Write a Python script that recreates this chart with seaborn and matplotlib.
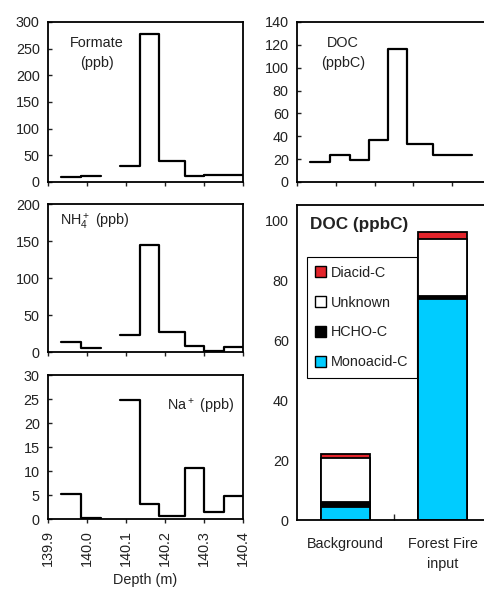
import numpy as np
import pandas as pd
import seaborn as sns
import matplotlib.pyplot as plt
from matplotlib.patches import Patch

# sample depth boundaries (m) and concentrations, NaN = no sample
edges = [139.933, 139.985, 140.036, 140.085, 140.135, 140.184, 140.250, 140.300, 140.350, 140.400]
formate = [9.4, 12.0, np.nan, 30.0, 278.0, 40.0, 10.7, 13.0, 13.0]
nh4 = [14.0, 6.0, np.nan, 22.5, 145.0, 27.0, 8.0, 2.0, 6.5]
na = [5.3, 0.3, np.nan, 24.7, 3.1, 0.6, 10.6, 1.5, 4.7]
doc = [17.6, 23.5, 19.0, 36.5, 116.0, 33.0, 24.0, 24.0, np.nan]

# DOC budget (ppbC)
sources = ['Background', 'Forest Fire\ninput']
monoacid = [4.4, 73.6]
hcho = [1.6, 1.1]
unknown = [14.8, 19.0]
diacid = [1.1, 2.2]

sns.set_style('ticks')
plt.rcParams['font.family'] = ['Liberation Sans', 'DejaVu Sans']
plt.rcParams['mathtext.fontset'] = 'custom'
plt.rcParams['mathtext.rm'] = 'Liberation Sans'
TXT = '#222222'
FS = 10.4


def step_plot(ax, vals):
    # split into runs of measured samples so a missing one leaves a gap
    runs, cur = [], []
    for i, v in enumerate(vals):
        if np.isnan(v):
            if cur:
                runs.append(cur)
            cur = []
        else:
            cur.append(i)
    if cur:
        runs.append(cur)
    for run in runs:
        x = [edges[i] for i in run] + [edges[run[-1] + 1]]
        y = [vals[i] for i in run] + [vals[run[-1]]]
        sns.lineplot(x=x, y=y, drawstyle='steps-post', estimator=None, sort=False,
                     color='black', lw=1.6, ax=ax)


def style_ax(ax, ymax, ystep, xlabels=False):
    ax.set_xlim(139.9, 140.4)
    ax.set_ylim(0, ymax)
    ax.set_yticks(np.arange(0, ymax + 0.1, ystep))
    ax.set_xticks([139.9, 140.0, 140.1, 140.2, 140.3, 140.4])
    if xlabels:
        ax.set_xticklabels(['139.9', '140.0', '140.1', '140.2', '140.3', '140.4'], rotation=90)
        ax.set_xlabel('Depth (m)', fontsize=FS, color=TXT, labelpad=5)
    else:
        ax.set_xticklabels([])
        ax.set_xlabel('')
    ax.set_ylabel('')
    ax.tick_params(axis='y', length=3, width=1, direction='in', pad=6, labelsize=FS, colors=TXT)
    ax.tick_params(axis='x', length=3, width=1, direction='out', pad=5, labelsize=FS, colors=TXT)
    for s in ax.spines.values():
        s.set_visible(True)
        s.set_linewidth(1.3)
        s.set_color('black')


fig = plt.figure(figsize=(4.84, 5.92), dpi=100)
ax1 = fig.add_axes([48 / 484, 0.6926, 195 / 484, 0.2703])
ax2 = fig.add_axes([48 / 484, 0.4054, 195 / 484, 0.25])
ax3 = fig.add_axes([48 / 484, 0.1233, 195 / 484, 0.2432])
ax4 = fig.add_axes([297 / 484, 0.6926, 194 / 484, 0.2703])
ax5 = fig.add_axes([297 / 484, 0.1216, 194 / 484, 0.5321])

step_plot(ax1, formate)
style_ax(ax1, 300, 50)
ax1.text(0.25, 0.809, 'Formate\n(ppb)', transform=ax1.transAxes, ha='center', va='center',
         fontsize=FS, color=TXT, linespacing=1.55)

step_plot(ax2, nh4)
style_ax(ax2, 200, 50)
ax2.text(0.062, 0.88, r'NH$\mathregular{_4^+}$ (ppb)', transform=ax2.transAxes, ha='left',
         va='center', fontsize=FS, color=TXT)

step_plot(ax3, na)
style_ax(ax3, 30, 5, xlabels=True)
ax3.text(0.61, 0.78, r'Na$\mathregular{^+}$ (ppb)', transform=ax3.transAxes, ha='left',
         va='center', fontsize=FS, color=TXT)

step_plot(ax4, doc)
style_ax(ax4, 140, 20)
ax4.text(0.237, 0.806, 'DOC\n(ppbC)', transform=ax4.transAxes, ha='center', va='center',
         fontsize=FS, color=TXT, linespacing=1.55)

# stacked bars: draw cumulative totals from the top down
bud = pd.DataFrame({'source': sources, 'mono': monoacid, 'hcho': hcho,
                    'unk': unknown, 'di': diacid})
bud['c_hcho'] = bud['mono'] + bud['hcho']
bud['c_unk'] = bud['c_hcho'] + bud['unk']
bud['c_di'] = bud['c_unk'] + bud['di']
layers = [('c_di', '#e3242b', 'Diacid-C'), ('c_unk', 'white', 'Unknown'),
          ('c_hcho', 'black', 'HCHO-C'), ('mono', '#00ccff', 'Monoacid-C')]
for col, colr, lab in layers:
    sns.barplot(data=bud, x='source', y=col, color=colr, edgecolor='black', linewidth=1.3,
                width=0.5, saturation=1, ax=ax5)
ax5.set_xlim(-0.5, 1.5)
ax5.set_ylim(0, 105)
ax5.set_yticks(np.arange(0, 101, 20))
ax5.set_xlabel('')
ax5.set_ylabel('')
ax5.tick_params(axis='y', length=0, pad=6, labelsize=FS, colors=TXT)
ax5.tick_params(axis='x', length=0, pad=12, labelsize=FS, colors=TXT)
for t in ax5.get_xticklabels():
    t.set_linespacing(1.6)
ax5.set_xticks([0.5], minor=True)
ax5.tick_params(axis='x', which='minor', length=4, width=1, direction='in')
for s in ax5.spines.values():
    s.set_visible(True)
    s.set_linewidth(1.3)
    s.set_color('black')
ax5.text(0.067, 0.937, 'DOC (ppbC)', transform=ax5.transAxes, ha='left', va='center',
         fontsize=12.3, fontweight='bold', color=TXT)
handles = [Patch(facecolor=c, edgecolor='black', linewidth=1.0, label=l) for _, c, l in layers]
leg = ax5.legend(handles=handles, loc='upper left', bbox_to_anchor=(0.05, 0.835), fontsize=FS,
                 frameon=True, fancybox=False, edgecolor='black', framealpha=1,
                 handlelength=0.75, handleheight=0.75, handletextpad=0.3,
                 labelspacing=1.1, borderpad=0.6, borderaxespad=0)
leg.get_frame().set_linewidth(0.8)
for t in leg.get_texts():
    t.set_color(TXT)

fig.savefig('out.png', dpi=100)
